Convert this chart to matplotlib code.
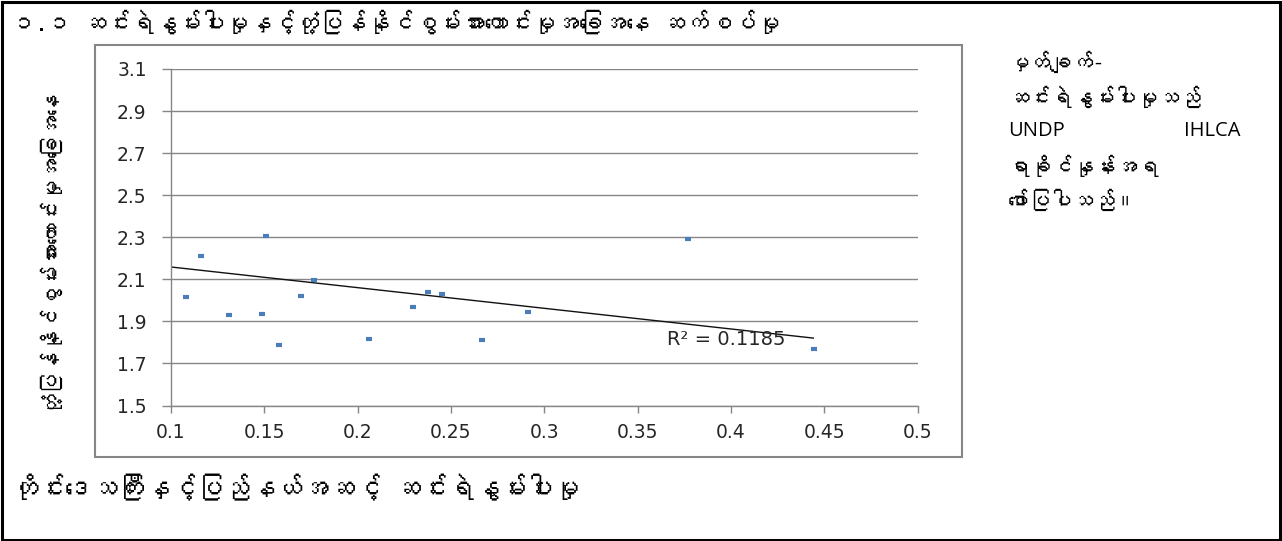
import matplotlib
matplotlib.use("Agg")
import matplotlib.pyplot as plt
from matplotlib import font_manager
from matplotlib.patches import Rectangle

# ---------------- data ----------------
poverty = [0.1079, 0.1161, 0.1311, 0.1507, 0.1488, 0.1580, 0.1697, 0.1766,
           0.2060, 0.2297, 0.2379, 0.2454, 0.2667, 0.2912, 0.3770, 0.4444]
resilience = [2.018, 2.213, 1.930, 2.306, 1.935, 1.786, 2.022, 2.097,
              1.814, 1.970, 2.038, 2.029, 1.810, 1.946, 2.290, 1.767]
trend_x = [0.1, 0.4442]
trend_y = [2.1586, 1.8205]
r2_label = "R² = 0.1185"
x_ticks = [0.1, 0.15, 0.2, 0.25, 0.3, 0.35, 0.4, 0.45, 0.5]
x_tick_labels = ["0.1", "0.15", "0.2", "0.25", "0.3", "0.35", "0.4", "0.45", "0.5"]
y_ticks = [1.5, 1.7, 1.9, 2.1, 2.3, 2.5, 2.7, 2.9, 3.1]
y_tick_labels = ["1.5", "1.7", "1.9", "2.1", "2.3", "2.5", "2.7", "2.9", "3.1"]

title = "၁.၁ ဆင်းရဲနွမ်းပါးမှုနှင့်တုံ့ပြန်နိုင်စွမ်းအားကောင်းမှုအခြေအနေ ဆက်စပ်မှု"
x_label = "တိုင်းဒေသကြီးနှင့်ပြည်နယ်အဆင့် ဆင်းရဲနွမ်းပါးမှု"
y_label = "တုံ့ပြန်နိုင်စွမ်းအားကောင်းမှုအခြေအနေ"
note_lines = ["မှတ်ချက်-", "ဆင်းရဲနွမ်းပါးမှုသည်", None, "ရာခိုင်နှုန်းအရ", "ဖော်ပြပါသည်။"]
note_left_word = "UNDP"
note_right_word = "IHLCA"

# ---------------- font detection (Myanmar) ----------------
mm_family = None
try:
    from fontTools.ttLib import TTFont
    for path in sorted(font_manager.findSystemFonts()):
        try:
            f = TTFont(path, fontNumber=0, lazy=True)
            cmap = f.getBestCmap() or {}
            if 0x1000 in cmap and 0x1004 in cmap:
                mm_family = font_manager.FontProperties(fname=path).get_name()
                break
        except Exception:
            continue
except Exception:
    pass
text_families = ([mm_family] if mm_family else []) + ["DejaVu Sans"]
plt.rcParams["font.family"] = text_families

W, H = 1282, 541
fig = plt.figure(figsize=(W / 100, H / 100), dpi=100)

grey = "#868686"
num_color = "#262626"

def fx(px):
    return px / W

def fy(py):
    return 1 - py / H

# outer black border
fig.patches.append(Rectangle((fx(1.5), fy(539.5)), fx(1279.5) - fx(1.5), fy(1.5) - fy(539.5),
                             transform=fig.transFigure, fill=False, edgecolor="black",
                             linewidth=2.2, zorder=0))
# chart box
fig.patches.append(Rectangle((fx(95), fy(457)), fx(962) - fx(95), fy(45) - fy(457),
                             transform=fig.transFigure, fill=False, edgecolor=grey,
                             linewidth=1.5, zorder=0))

ax = fig.add_axes([fx(171), fy(405.5), fx(917.5) - fx(171), fy(69) - fy(405.5)])
ax.set_xlim(0.1, 0.5)
ax.set_ylim(1.5, 3.1)
ax.set_xticks(x_ticks)
ax.set_xticklabels(x_tick_labels, family="DejaVu Sans", fontsize=13.5, color=num_color)
ax.set_yticks(y_ticks)
ax.set_yticklabels(y_tick_labels, family="DejaVu Sans", fontsize=13.5, color=num_color)
for s in ["top", "right"]:
    ax.spines[s].set_visible(False)
for s in ["left", "bottom"]:
    ax.spines[s].set_color(grey)
    ax.spines[s].set_linewidth(1.0)
ax.tick_params(axis="y", direction="out", length=6.5, width=1.0, color=grey, pad=11)
ax.tick_params(axis="x", direction="out", length=5, width=1.0, color=grey, pad=7.5)
ax.yaxis.grid(True, color=grey, linewidth=1.0)
ax.set_axisbelow(True)
ax.patch.set_alpha(0)

ax.plot(poverty, resilience, linestyle="none", marker="_", markersize=5,
        markeredgewidth=3, color="#4A7EBB", zorder=3)
ax.plot(trend_x, trend_y, color="#111111", linewidth=1.0, zorder=2)
ax.text(0.3658, 1.812, r2_label, family="DejaVu Sans", fontsize=14,
        color=num_color, ha="left", va="center")

# texts
fig.text(fx(12), fy(22), title, fontsize=17, ha="left", va="center", color="black")
fig.text(fx(12), fy(487), x_label, fontsize=19, ha="left", va="center", color="black")
fig.text(fx(45), fy(248), y_label, fontsize=15.5, rotation=90, ha="center", va="center",
         color="black")

note_x0, note_x1 = 1008, 1240
line_y0, dy = 62, 34.5
for i, line in enumerate(note_lines):
    y = line_y0 + i * dy
    if line is None:
        fig.text(fx(note_x0), fy(y), note_left_word, family="Open Sans", fontsize=14.5,
                 ha="left", va="center")
        fig.text(fx(note_x1), fy(y), note_right_word, family="Open Sans", fontsize=14.5,
                 ha="right", va="center")
    else:
        fig.text(fx(note_x0), fy(y), line, fontsize=15.5, ha="left", va="center")

fig.savefig("out.png", dpi=100)
